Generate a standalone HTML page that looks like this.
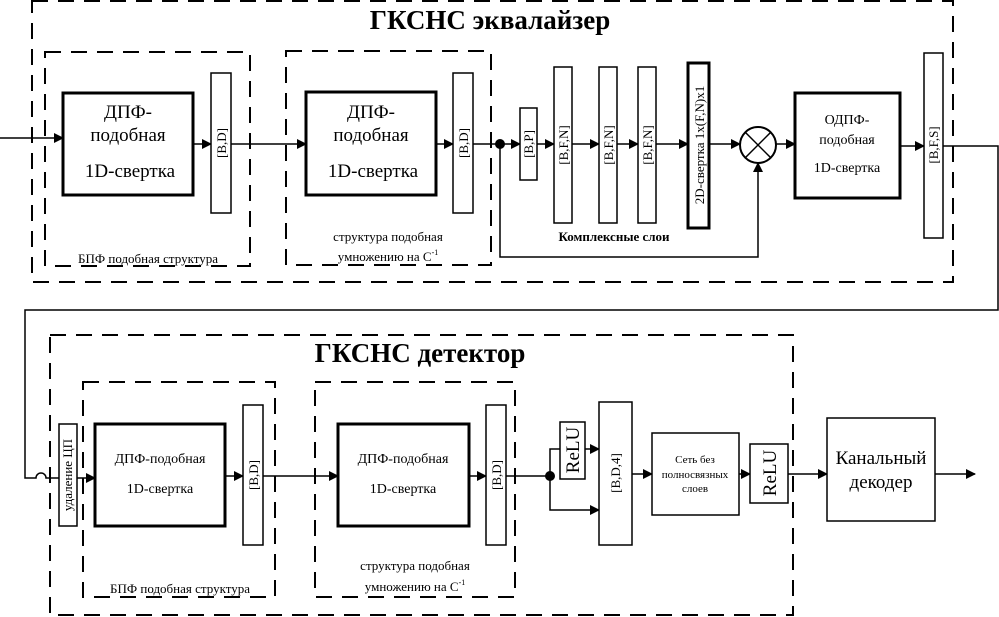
<!DOCTYPE html>
<html><head><meta charset="utf-8"><style>
html,body{margin:0;padding:0;background:#fff}
svg{display:block}
text{font-family:"Liberation Serif",serif;fill:#000}
</style></head><body>
<svg width="999" height="617" viewBox="0 0 999 617" xmlns="http://www.w3.org/2000/svg">
<defs>
<marker id="a" markerWidth="10" markerHeight="10" refX="9" refY="5" orient="auto" markerUnits="userSpaceOnUse"><path d="M0,0 L10,5 L0,10 z" fill="#000"/></marker>
</defs>
<g fill="none" stroke="#000" stroke-width="2" stroke-dasharray="16,10">
<rect x="32" y="1" width="921" height="281"/>
<rect x="45" y="52" width="205" height="214"/>
<rect x="286" y="51" width="205" height="214"/>
<rect x="50" y="335" width="743" height="280"/>
<rect x="83" y="382" width="192" height="215"/>
<rect x="315" y="382" width="200" height="215"/>
</g>
<text x="490" y="29" font-size="27" font-weight="bold" text-anchor="middle">ГКСНС эквалайзер</text>
<text x="420" y="362" font-size="27" font-weight="bold" text-anchor="middle">ГКСНС детектор</text>
<g font-size="13" text-anchor="middle">
<text x="148" y="263">БПФ подобная структура</text>
<text x="388" y="241">структура подобная</text>
<text x="388" y="261">умножению на C<tspan font-size="8" dy="-6">-1</tspan></text>
<text x="180" y="593">БПФ подобная структура</text>
<text x="415" y="570">структура подобная</text>
<text x="415" y="591">умножению на C<tspan font-size="8" dy="-6">-1</tspan></text>
</g>
<g fill="none" stroke="#000" stroke-width="1.5">
<!-- top lines -->
<line x1="0" y1="138" x2="63" y2="138" marker-end="url(#a)"/>
<line x1="193" y1="144" x2="211" y2="144" marker-end="url(#a)"/>
<line x1="231" y1="144" x2="306" y2="144" marker-end="url(#a)"/>
<line x1="436" y1="144" x2="453" y2="144" marker-end="url(#a)"/>
<line x1="473" y1="144" x2="520" y2="144" marker-end="url(#a)"/>
<line x1="537" y1="144" x2="554" y2="144" marker-end="url(#a)"/>
<line x1="572" y1="144" x2="599" y2="144" marker-end="url(#a)"/>
<line x1="617" y1="144" x2="638" y2="144" marker-end="url(#a)"/>
<line x1="656" y1="144" x2="688" y2="144" marker-end="url(#a)"/>
<line x1="709" y1="144" x2="740" y2="144" marker-end="url(#a)"/>
<line x1="776" y1="144" x2="795" y2="144" marker-end="url(#a)"/>
<path d="M900,146 L924,146" marker-end="url(#a)"/>
<path d="M500,144 L500,257 L758,257 L758,163" marker-end="url(#a)"/>
<path d="M943,146 L998,146 L998,310 L25,310 L25,478 L36,478 A5,5 0 0 1 46,478 L59,478"/>
<!-- bottom -->
<line x1="77" y1="478" x2="95" y2="478" marker-end="url(#a)"/>
<line x1="225" y1="476" x2="243" y2="476" marker-end="url(#a)"/>
<line x1="263" y1="476" x2="338" y2="476" marker-end="url(#a)"/>
<line x1="469" y1="476" x2="486" y2="476" marker-end="url(#a)"/>
<line x1="506" y1="476" x2="550" y2="476"/>
<path d="M550,476 L550,449 L560,449"/>
<line x1="585" y1="449" x2="599" y2="449" marker-end="url(#a)"/>
<path d="M550,476 L550,510 L599,510" marker-end="url(#a)"/>
<line x1="632" y1="474" x2="652" y2="474" marker-end="url(#a)"/>
<line x1="739" y1="474" x2="750" y2="474" marker-end="url(#a)"/>
<line x1="788" y1="474" x2="827" y2="474" marker-end="url(#a)"/>
<line x1="935" y1="474" x2="975" y2="474" marker-end="url(#a)"/>
</g>
<circle cx="500" cy="144" r="5" fill="#000"/>
<circle cx="550" cy="476" r="5" fill="#000"/>
<g fill="#fff" stroke="#000">
<rect x="63" y="93" width="130" height="102" stroke-width="3"/>
<rect x="306" y="92" width="130" height="103" stroke-width="3"/>
<rect x="795" y="93" width="105" height="105" stroke-width="3"/>
<rect x="688" y="63" width="21" height="165" stroke-width="3"/>
<rect x="211" y="73" width="20" height="140" stroke-width="1.5"/>
<rect x="453" y="73" width="20" height="140" stroke-width="1.5"/>
<rect x="520" y="108" width="17" height="72" stroke-width="1.5"/>
<rect x="554" y="67" width="18" height="156" stroke-width="1.5"/>
<rect x="599" y="67" width="18" height="156" stroke-width="1.5"/>
<rect x="638" y="67" width="18" height="156" stroke-width="1.5"/>
<rect x="924" y="53" width="19" height="185" stroke-width="1.5"/>
<circle cx="758" cy="145" r="18" stroke-width="2"/>
<rect x="95" y="424" width="130" height="102" stroke-width="3"/>
<rect x="338" y="424" width="131" height="102" stroke-width="3"/>
<rect x="59" y="424" width="18" height="102" stroke-width="1.5"/>
<rect x="243" y="405" width="20" height="140" stroke-width="1.5"/>
<rect x="486" y="405" width="20" height="140" stroke-width="1.5"/>
<rect x="560" y="422" width="25" height="57" stroke-width="1.5"/>
<rect x="599" y="402" width="33" height="143" stroke-width="1.5"/>
<rect x="652" y="433" width="87" height="82" stroke-width="1.5"/>
<rect x="750" y="444" width="38" height="59" stroke-width="1.5"/>
<rect x="827" y="418" width="108" height="103" stroke-width="1.5"/>
</g>
<g stroke="#000" stroke-width="1.5"><line x1="745" y1="132" x2="771" y2="158"/><line x1="771" y1="132" x2="745" y2="158"/></g>
<g font-size="19" text-anchor="middle">
<text x="128" y="118">ДПФ-</text><text x="128" y="141">подобная</text><text x="130" y="177">1D-свертка</text>
<text x="371" y="118">ДПФ-</text><text x="371" y="141">подобная</text><text x="373" y="177">1D-свертка</text>
</g>
<g font-size="14" text-anchor="middle">
<text x="847" y="124">ОДПФ-</text><text x="847" y="144">подобная</text><text x="847" y="172">1D-свертка</text>
<text x="160" y="463">ДПФ-подобная</text><text x="160" y="493">1D-свертка</text>
<text x="403" y="463">ДПФ-подобная</text><text x="403" y="493">1D-свертка</text>
</g>
<text x="614" y="241" font-size="13" font-weight="bold" text-anchor="middle">Комплексные слои</text>
<g font-size="11" text-anchor="middle"><text x="695" y="463">Сеть без</text><text x="695" y="478">полносвязных</text><text x="695" y="492">слоев</text></g>
<g font-size="19" text-anchor="middle"><text x="881" y="464">Канальный</text><text x="881" y="488">декодер</text></g>
<g font-size="13" text-anchor="middle">
<text transform="translate(226,143) rotate(-90)">[B,D]</text>
<text transform="translate(468,143) rotate(-90)">[B,D]</text>
<text transform="translate(533,144) rotate(-90)">[B,P]</text>
<text transform="translate(568,145) rotate(-90)">[B,F,N]</text>
<text transform="translate(613,145) rotate(-90)">[B,F,N]</text>
<text transform="translate(652,145) rotate(-90)">[B,F,N]</text>
<text transform="translate(704,145) rotate(-90)">2D-свертка 1x(F,N)x1</text>
<text transform="translate(938,145) rotate(-90)">[B,F,S]</text>
<text transform="translate(72,475) rotate(-90)">удаление ЦП</text>
<text transform="translate(258,475) rotate(-90)">[B,D]</text>
<text transform="translate(501,475) rotate(-90)">[B,D]</text>
<text transform="translate(620,473) rotate(-90)">[B,D,4]</text>
</g>
<g font-size="19" text-anchor="middle">
<text transform="translate(579,450) rotate(-90)">ReLU</text>
<text transform="translate(776,473) rotate(-90)">ReLU</text>
</g>
</svg>
</body></html>
